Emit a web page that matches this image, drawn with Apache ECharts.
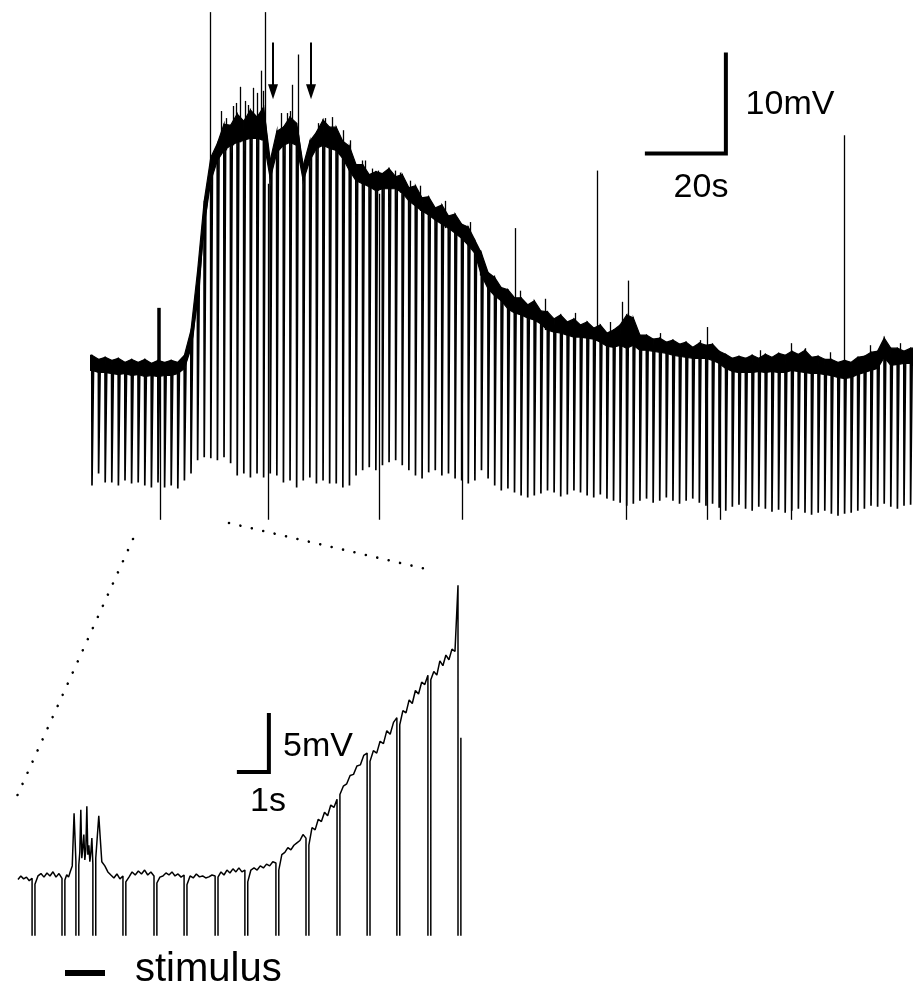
<!DOCTYPE html>
<html><head><meta charset="utf-8">
<script src="https://cdn.jsdelivr.net/npm/echarts@6/dist/echarts.min.js"></script>
<style>html,body{margin:0;padding:0;background:#fff}#c{width:913px;height:993px}</style>
</head><body><div id="c"></div>
<script>
// ---------------- TOP TRACE (time in s, membrane potential in mV, 0 = resting level) ----------------
const TOP_PERIOD = 1.63;       // s between stimulus pulses
const TOP_FIRST_PULSE = 0.49;  // s
const TOP_END = 203.2;         // s, end of recording
// upper / lower edge of the noisy trace at each stimulus pulse
const topUpper = [1.0,0.6,0.8,0.5,0.7,0.3,0.6,0.3,0.6,0.2,0.5,0.3,0.5,0.3,1.0,
  3.5,9.4,16.3,20.6,22.0,23.9,23.8,24.9,24.2,25.3,24.6,25.6,20.3,23.2,23.6,24.6,
  24.0,19.8,22.2,23.1,24.3,23.6,23.6,22.2,21.7,19.9,19.9,18.9,19.2,19.0,19.5,
  18.7,18.9,17.6,17.8,16.6,16.7,15.6,15.9,14.8,15.0,14.0,13.7,12.4,11.1,9.2,
  8.7,7.7,7.5,6.7,6.7,6.0,6.4,5.4,5.3,4.6,5.0,4.3,4.6,4.0,4.3,
  3.7,4.0,3.2,3.5,4.0,5.0,4.7,3.0,3.0,2.6,2.7,2.3,2.5,2.1,2.3,
  1.8,2.2,2.0,2.1,1.4,1.1,0.7,0.9,0.7,1.0,0.7,1.1,0.8,1.2,1.0,
  1.4,1.1,1.5,0.8,0.9,0.6,0.6,0.3,0.5,0.3,0.8,0.9,1.3,1.4,2.7,1.7,1.7,1.4,1.7];
const topLower = [-0.5,-0.7,-0.7,-0.8,-0.9,-0.8,-1.0,-0.9,-1.1,-1.0,-1.1,-1.0,-1.0,-0.8,-0.3,
  1.7,6.4,13.9,18.3,20.3,21.3,21.8,22.1,22.3,22.5,22.5,22.3,18.5,21.1,21.8,22.1,
  21.8,18.3,20.3,21.5,21.8,21.5,21.3,20.5,19.3,18.3,18.0,17.7,17.3,17.5,17.5,
  17.5,17.1,16.3,15.8,15.3,14.9,14.4,14.0,13.6,13.1,12.6,11.9,11.1,8.9,7.6,
  6.9,6.4,5.6,5.2,5.0,4.7,4.5,4.1,3.5,3.3,3.2,3.0,2.8,2.8,2.7,
  2.6,2.3,1.9,1.8,2.0,1.7,2.0,1.5,1.5,1.4,1.3,1.2,1.0,0.9,0.8,
  0.7,0.7,0.7,0.5,0.2,-0.3,-0.6,-0.7,-0.7,-0.7,-0.6,-0.7,-0.6,-0.7,-0.7,
  -0.5,-0.6,-0.7,-0.8,-0.8,-0.9,-1.0,-1.2,-1.3,-1.2,-0.9,-0.7,-0.5,-0.3,0.8,0.0,0.1,0.2,0.2];
// most negative value reached by each stimulus pulse
const topBottom = [-11.9,-10.7,-11.6,-11.6,-11.9,-11.4,-11.7,-11.6,-11.9,-12.1,-11.6,-12.1,-11.9,-12.2,-11.4,
  -10.7,-9.4,-9.1,-9.2,-9.4,-9.1,-9.7,-10.9,-10.7,-11.1,-10.7,-11.1,-10.7,-10.9,-11.6,-11.4,
  -12.1,-11.4,-11.1,-11.7,-11.4,-11.7,-11.7,-12.1,-11.9,-10.9,-10.4,-10.1,-10.4,-9.9,-9.6,
  -9.4,-9.9,-10.4,-10.9,-11.2,-10.6,-10.4,-10.9,-10.7,-11.2,-11.4,-11.7,-11.4,-10.4,-11.2,
  -11.9,-12.4,-12.2,-12.6,-12.9,-13.1,-12.9,-12.7,-12.4,-12.6,-13.0,-12.8,-12.4,-12.6,-12.9,
  -13.1,-12.8,-13.2,-13.4,-13.6,-13.9,-13.7,-13.4,-13.2,-13.6,-13.4,-13.1,-13.4,-13.7,-13.4,
  -13.2,-13.6,-13.9,-13.7,-14.1,-14.4,-14.0,-13.8,-14.2,-14.4,-14.0,-14.2,-14.5,-14.3,-14.6,
  -14.4,-14.2,-14.6,-14.8,-14.6,-14.4,-14.7,-14.9,-14.7,-14.6,-14.4,-14.2,-13.9,-14.0,-13.7,-14.0,-14.2,-13.9,-13.8];
// isolated fast events: [time s, high mV, low mV]
const topEvents = [[17.28,0.0,-15.3],[29.63,35.0,18.0],[43.21,35.0,22.0],[43.95,18.0,-15.3],
  [49.88,27.8,22.0],[51.36,30.8,21.0],[71.36,17.0,-15.3],[91.85,13.0,-15.3],[104.94,13.6,5.0],
  [125.19,19.3,3.0],[132.35,2.0,-15.3],[132.84,8.4,3.0],[152.35,3.8,-15.3],[155.56,0.5,-15.3],
  [173.09,2.2,-15.3],[186.17,22.8,0.0]];
const topBigSpike = [17.0, 0.0, 5.7];  // [time, from mV, to mV]
// noise peaks on the trace: [time s, mV]
const topNoisePeaks = [[32.35,25.2],[33.58,24.5],[35.31,25.7],[36.05,26.0],[37.04,27.6],[38.27,26.2],
  [39.01,25.8],[40.25,27.5],[41.23,27.0],[42.22,29.2],[42.72,27.2],[47.16,25.0],[48.64,25.0],
  [49.38,25.2],[56.30,24.0],[58.02,24.5],[59.75,24.6],[62.47,23.3],[64.2,22.3],[67.16,20.3],
  [67.9,20.3],[69.63,19.5],[71.1,19.3],[75.31,19.3],[76.5,19.1],[79.01,18.3],[81.5,17.8],
  [87.7,16.3],[93.8,14.2],[96.3,11.4],[99.75,8.9],[106.2,7.4],[112.3,6.6],[119.8,5.2],
  [128.4,4.3],[131.5,6.3],[140.7,3.2],[150.6,2.5],[165.4,1.5],[176.5,1.7],[182.7,1.3],
  [192.6,2.0],[200.0,2.2]];
// arrows marking events: [time s, tail mV, head centre mV]
const topArrows = [[45.19,32.0,27.1],[54.57,32.0,27.1]];
const TOP_SCALE_S = 20, TOP_SCALE_MV = 10;
const TOP_SCALE_ANCHOR = [137.0, 21.0];

// ---------------- INSET (expanded onset) ----------------
const insetPulseTimes = [0.44,1.375,1.81,2.34,3.28,4.25,5.19,6.16,7.09,8.06,9.0,9.97,10.91,11.84,12.81,13.75];
const INSET_PULSE_WIDTH = 0.09;
const INSET_PULSE_DEPTH = -8;
const INSET_END_VALUE = 11.7;
// trace samples between pulses (mV), evenly spaced inside each gap
const insetSegments = [
  [-0.3,0.0,-0.25,-0.1,-0.4,-0.2],
  [-0.7,0.0,0.2,-0.1,0.25,0.0,0.35,-0.1,0.2,-0.2],
  [-0.35,0.1,-0.1,0.4,0.85,5.3,1.2],
  [0.93,2.0,5.6,1.5,2.4,3.5,1.35,2.2,5.9,1.8,2.6,1.2,2.0,3.2,1.0],
  [1.5,5.1,1.2,0.85,0.34,0.08,-0.17,0.17,-0.25,0.0],
  [-0.5,-0.1,0.34,0.08,0.42,0.17,0.5,0.08,0.34,0.0],
  [-0.6,-0.1,0.0,0.25,0.08,0.34,0.0,0.17,-0.1,0.08],
  [-0.75,0.0,-0.17,0.17,-0.08,0.0,-0.17,-0.08,0.08,0.0],
  [-0.1,0.34,0.08,0.5,0.25,0.6,0.34,0.68,0.34,0.5],
  [-0.5,0.5,0.68,0.5,0.85,0.68,1.0,0.85,1.2,1.1],
  [0.5,1.8,2.0,2.4,2.2,2.6,2.8,3.0,3.5,3.2],
  [2.6,4.1,3.9,4.8,4.6,5.4,5.1,6.0,5.8,6.5],
  [6.9,7.6,7.8,8.5,8.6,9.3,9.4,10.2,10.4],
  [9.7,10.6,10.4,11.4,11.2,12.3,12.0,13.0,13.4],
  [12.8,14.0,13.8,14.9,14.6,15.7,15.4,16.4,16.2,17.0],
  [16.6,17.3,17.0,18.2,17.8,18.7,18.3,19.2,19.0,24.6]
];
const INSET_SCALE_S = 1, INSET_SCALE_MV = 5;
const INSET_SCALE_ANCHOR = [6.84, 8.8];

// ---------------- build series data ----------------
const topPulseTimes = topUpper.map((_, i) => +(TOP_FIRST_PULSE + i * TOP_PERIOD).toFixed(3));
const bandX = [0, ...topPulseTimes, TOP_END];
const bandLow = [topLower[0], ...topLower, topLower[topLower.length - 1]];
const bandHigh = [topUpper[0], ...topUpper, topUpper[topUpper.length - 1]];
const bandSegs = [];
for (let k = 0; k < bandX.length - 1; k++) {
  bandSegs.push([bandX[k], bandLow[k], bandHigh[k], bandX[k + 1], bandLow[k + 1], bandHigh[k + 1]]);
}
const nearestPulse = t => Math.max(0, Math.min(topLower.length - 1, Math.round((t - TOP_FIRST_PULSE) / TOP_PERIOD)));

const pulseData = [];
topPulseTimes.forEach((t, i) => {
  const mid = (topUpper[i] + topLower[i]) / 2;
  pulseData.push([t - 0.05, mid], [t, topBottom[i]], [t + 0.35, topBottom[i]], [t + 0.4, mid]);
});

const insetData = [];
insetSegments.forEach((vals, k) => {
  const start = k === 0 ? 0 : insetPulseTimes[k - 1] + INSET_PULSE_WIDTH;
  const end = insetPulseTimes[k];
  const n = vals.length;
  vals.forEach((v, j) => insetData.push([start + (end - start) * j / (n - 1), v]));
  insetData.push([end, INSET_PULSE_DEPTH], [end + INSET_PULSE_WIDTH, INSET_PULSE_DEPTH]);
});
insetData.push([insetPulseTimes[insetPulseTimes.length - 1] + INSET_PULSE_WIDTH, INSET_END_VALUE]);

const topScaleData = [[TOP_SCALE_ANCHOR[0], TOP_SCALE_ANCHOR[1]],
  [TOP_SCALE_ANCHOR[0] + TOP_SCALE_S, TOP_SCALE_ANCHOR[1]],
  [TOP_SCALE_ANCHOR[0] + TOP_SCALE_S, TOP_SCALE_ANCHOR[1] + TOP_SCALE_MV]];
const insetScaleData = [[INSET_SCALE_ANCHOR[0], INSET_SCALE_ANCHOR[1]],
  [INSET_SCALE_ANCHOR[0] + INSET_SCALE_S, INSET_SCALE_ANCHOR[1]],
  [INSET_SCALE_ANCHOR[0] + INSET_SCALE_S, INSET_SCALE_ANCHOR[1] + INSET_SCALE_MV]];

const K = '#000';
const FONT = '"Liberation Sans", Arial, Helvetica, sans-serif';
const noSym = {symbol: 'none', silent: true};

const chart = echarts.init(document.getElementById('c'), null, {renderer: 'canvas'});
chart.setOption({
  animation: false,
  backgroundColor: '#fff',
  grid: [
    {left: 90, top: 0, width: 823, height: 540},
    {left: 18, top: 557, width: 444, height: 378}
  ],
  xAxis: [
    {type: 'value', gridIndex: 0, min: 0, max: TOP_END, show: false},
    {type: 'value', gridIndex: 1, min: 0, max: 13.875, show: false}
  ],
  yAxis: [
    {type: 'value', gridIndex: 0, min: -17.3, max: 36.2, show: false},
    {type: 'value', gridIndex: 1, min: -5, max: 27, show: false}
  ],
  series: [
    {type: 'custom', xAxisIndex: 0, yAxisIndex: 0, data: bandSegs, silent: true, clip: true,
      encode: {x: [0, 3], y: [1, 2, 4, 5]},
      renderItem: (params, api) => {
        const p1 = api.coord([api.value(0), api.value(1)]);
        const p2 = api.coord([api.value(0), api.value(2)]);
        const p3 = api.coord([api.value(3), api.value(5)]);
        const p4 = api.coord([api.value(3), api.value(4)]);
        return {type: 'polygon', shape: {points: [p1, p2, p3, p4]},
          style: {fill: K, stroke: K, lineWidth: 1.2}};
      }},
    Object.assign({type: 'line', xAxisIndex: 0, yAxisIndex: 0, data: pulseData,
      lineStyle: {width: 1.7, color: K}}, noSym),
    Object.assign({type: 'line', xAxisIndex: 0, yAxisIndex: 0, data: topScaleData,
      lineStyle: {width: 4, color: K, join: 'miter'},
      markLine: {
        silent: true, symbol: 'none', label: {show: false},
        lineStyle: {type: 'solid', color: K, width: 1.3},
        data: [
          ...topEvents.map(e => [{coord: [e[0], e[1]]}, {coord: [e[0], e[2]]}]),
          ...topNoisePeaks.map(p => [{coord: [p[0], topLower[nearestPulse(p[0])]]}, {coord: [p[0], p[1]]}]),
          [{coord: [topBigSpike[0], topBigSpike[1]], lineStyle: {width: 3.5}}, {coord: [topBigSpike[0], topBigSpike[2]]}]
        ]
      }}, noSym),
    Object.assign({type: 'line', xAxisIndex: 0, yAxisIndex: 0, data: [],
      markLine: {
        silent: true, symbol: ['none', 'triangle'], symbolSize: [10, 15], label: {show: false},
        lineStyle: {type: 'solid', color: K, width: 2},
        data: topArrows.map(a => [{coord: [a[0], a[1]]}, {coord: [a[0], a[2]]}])
      }}, noSym),
    Object.assign({type: 'line', xAxisIndex: 1, yAxisIndex: 1, data: insetData,
      lineStyle: {width: 1.5, color: K}}, noSym),
    Object.assign({type: 'line', xAxisIndex: 1, yAxisIndex: 1, data: insetScaleData,
      lineStyle: {width: 4, color: K, join: 'miter'}}, noSym)
  ],
  graphic: [
    {type: 'line', shape: {x1: 133, y1: 539, x2: 13, y2: 805}, silent: true,
      style: {stroke: K, lineWidth: 2.6, lineDash: [0.01, 12.2], lineCap: 'round'}},
    {type: 'line', shape: {x1: 229, y1: 523, x2: 426, y2: 569}, silent: true,
      style: {stroke: K, lineWidth: 2.6, lineDash: [0.01, 11.7], lineCap: 'round'}},
    {type: 'text', x: 790, y: 105, silent: true,
      style: {text: '10mV', font: '34px ' + FONT, fill: K, align: 'center', verticalAlign: 'middle'}},
    {type: 'text', x: 701, y: 188, silent: true,
      style: {text: '20s', font: '34px ' + FONT, fill: K, align: 'center', verticalAlign: 'middle'}},
    {type: 'text', x: 318, y: 747, silent: true,
      style: {text: '5mV', font: '34px ' + FONT, fill: K, align: 'center', verticalAlign: 'middle'}},
    {type: 'text', x: 268, y: 802, silent: true,
      style: {text: '1s', font: '34px ' + FONT, fill: K, align: 'center', verticalAlign: 'middle'}},
    {type: 'rect', shape: {x: 65, y: 970, width: 40, height: 6}, silent: true, style: {fill: K}},
    {type: 'text', x: 135, y: 970, silent: true,
      style: {text: 'stimulus', font: '40px ' + FONT, fill: K, align: 'left', verticalAlign: 'middle'}}
  ]
});
</script></body></html>
